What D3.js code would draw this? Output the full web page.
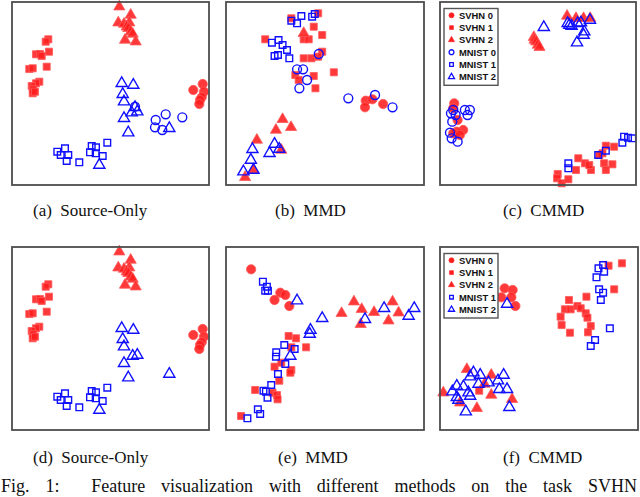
<!DOCTYPE html>
<html><head><meta charset="utf-8">
<script src="https://cdn.jsdelivr.net/npm/d3@7"></script>
<style>html,body{margin:0;padding:0;background:#fff;overflow:hidden}</style>
</head><body>
<svg id="chart" width="640" height="497"></svg>
<script>
// ---------- DATA (t-SNE style coordinates, y upward) ----------
const seriesNames = ["SVHN 0","SVHN 1","SVHN 2","MNIST 0","MNIST 1","MNIST 2"];
const captions = ["(a)  Source-Only","(b)  MMD","(c)  CMMD","(d)  Source-Only","(e)  MMD","(f)  CMMD"];
const figCaption = "Fig. 1:  Feature visualization with different methods on the task SVHN";

// (a) Source-Only
const a_svhn0 = [[190.7,101],[181.3,95],[192,93.3],[189.7,87.7],[188,85],[187.3,81]];
const a_svhn1 = [[36.3,145.7],[33.7,143.3],[37,133.3],[24,130.7],[28,131],[29.7,129],[34.7,118.3],[17.3,116],[20.7,116.7],[27.3,103.3],[24,101.7],[19.7,99],[21.3,95.7],[20.7,91.7],[23,93.3]];
const a_svhn2 = [[107.3,178.3],[118.7,170],[106.3,162.3],[112,161],[117.3,162.3],[114.7,158.3],[116.3,156.7],[118.7,153.3],[120.7,151],[113,145],[123.7,143.3]];
const a_mnist0 = [[123,78.3],[143.7,65],[153.7,70.7],[170.3,67.7],[143,57.7],[150.3,55]];
const a_mnist1 = [[45.3,33.3],[53,36.7],[48.7,30],[56.3,30],[54.7,24],[67.3,22.7],[79.7,39],[84,37.7],[78,32.7],[83.7,31.7],[90.7,29],[95.3,42.3]];
const a_mnist2 = [[109.7,101.7],[121.3,100],[110.7,90.7],[112,83.3],[123,77.7],[119.7,72.3],[125.3,73.3],[112,66.7],[116.3,52.3],[157.3,56.7],[87.3,20]];

// (b) MMD
const b_svhn0 = [[139,84.3],[138.3,77.7],[145.7,85.7],[156.3,81]];
const b_svhn1 = [[65,166.7],[91.7,171.7],[87.3,158.3],[77.3,145.7],[82.3,145.7],[95.7,150],[39,145.7],[95.7,133.3],[77.3,126.7],[85,126.7],[69,110],[87.3,109],[72.3,105],[89,96.7],[107.3,112.7],[91.7,128.3]];
const b_svhn2 = [[77.3,151.7],[56.3,65.7],[49.7,55],[64.7,57.7],[30.7,45],[55,35],[27.3,15],[19,7.7]];
const b_mnist0 = [[92.3,131],[70.7,115.7],[76.7,115.7],[80.7,105],[73,96.7],[121.7,86.7],[148.3,90],[165.7,77.7]];
const b_mnist1 = [[65,164.3],[70.7,161.7],[75,169],[85.7,168.3],[88.3,171],[45.7,142.3],[52.3,145],[56.3,140],[60.7,135],[48.3,129],[51.7,130],[63,126.7]];
const b_mnist2 = [[26.3,35.7],[48.3,41],[43.3,31.7],[53,36],[24.7,25],[17.3,13.3],[27.3,15]];

// (c) CMMD
const c_svhn0 = [[14.3,81.7],[13.3,76.7],[17.7,65],[23.3,55],[16.7,53.3],[13.3,51.7],[20,50]];
const c_svhn1 = [[166.7,39.3],[175,38.3],[139,26.7],[145.7,21.7],[151.7,15],[150,20],[163.3,31.7],[165,21.7],[173.3,20.7],[166.7,15],[136.7,15],[118.3,11],[117.7,6.7],[122.3,1.7],[129,5.7],[160,30]];
const c_svhn2 = [[127.7,169],[136.7,166.7],[144.3,166.7],[151,166.7],[94.3,147.7],[95,145],[96.7,143.3],[98.3,140],[100,137.7]];
const c_mnist0 = [[13.3,75],[11,71.7],[25,75],[30,75],[27.7,70],[12.3,63.3],[10,52.3],[11.7,46.7],[17.7,43.3],[15.7,70]];
const c_mnist1 = [[185,48.3],[189,47.3],[193.3,46.7],[183.3,42.3],[166.7,34.3],[159,30],[129,21.7],[129,16.7]];
const c_mnist2 = [[104.3,157.7],[130,160],[132.3,159],[138.3,161.7],[141.7,162.3],[150.7,165],[145,153.3],[144.3,150],[137.7,142.3],[128.3,161.7]];

// (d) Source-Only (MNIST 0 not shown)
const d_svhn0 = a_svhn0;
const d_svhn1 = a_svhn1;
const d_svhn2 = a_svhn2;
const d_mnist1 = a_mnist1;
const d_mnist2 = [[109.7,101.7],[121.3,100],[110.7,90.7],[112,83.3],[120.7,74],[125.3,75],[112,66.7],[116.3,52.3],[157.3,56],[87.3,20]];

// (e) MMD
const e_svhn0 = [[25,160.7],[54,137.3],[59,135],[48.3,130],[63,124]];
const e_svhn1 = [[62.3,94],[69.7,91.7],[79.7,82.7],[65,82.7],[48.3,63.3],[55,67.3],[65,60],[64,57.3],[53,49.3],[29,40],[46.3,37.3],[50.7,35],[51.3,30.7],[15,14]];
const e_svhn2 = [[115,116.7],[127.3,128.3],[135,120.7],[147.3,117.7],[165.7,128.3],[171.7,117.3],[134,105.7],[161.7,109.3]];
const e_mnist1 = [[36.7,148.3],[39,139.3],[41.7,139.3],[40.7,143.3],[58,85],[68.3,81],[50,77.7],[49.7,73.3],[59,66],[51.7,56],[45,45],[37.3,39.3],[39.7,38.3],[41.3,32.3],[31.7,20.7],[34,16],[21.3,11.7]];
const e_mnist2 = [[70.7,129.3],[95.7,111.7],[84,100],[83.3,96],[64,74],[157.3,121.7],[138.3,110.7],[181.7,114],[187.3,121.7]];

// (f) CMMD
const f_svhn0 = [[64.3,141.7],[72.3,140],[61,132.7],[71,132.7],[75,124]];
const f_svhn1 = [[167.7,164.3],[181,166.7],[173.3,140.7],[128.3,130],[145.7,133.3],[124.3,120.7],[130,120.7],[136.7,124],[140,121.7],[145,116.7],[146.7,112.3],[120,113.3],[121,105],[150,104],[147.3,97.7],[129.3,97.3],[39,39.3]];
const f_svhn2 = [[26.7,60.7],[51,55],[44.3,46],[3.3,37.3],[20,27.3],[51,35],[71.7,30.7],[36.7,21.7]];
const f_mnist1 = [[157.7,161.7],[162.3,165],[163.3,158.3],[155.7,152.7],[158.3,140.7],[162.3,137.3],[160,130],[169,101.7],[154.3,90],[150,84]];
const f_mnist2 = [[66.7,126],[33.3,57.3],[40,55],[63.3,55],[30,53.3],[38.3,46],[48.3,47.3],[57.7,49.3],[16.7,44],[23.3,43.3],[12.3,38.3],[66.7,40.7],[59,40.7],[28.3,37.3],[16.7,32.7],[30,34],[18.3,30],[69,22.7],[25.7,18.3]];

// ---------- STYLE / LAYOUT ----------
const RED = "#ff1e1e", BLUE = "#1010ff";
const style = {
  "SVHN 0":  {shape: d3.symbolCircle,   size: 68, color: RED,  filled: true},
  "SVHN 1":  {shape: d3.symbolSquare,   size: 50, color: RED,  filled: true},
  "SVHN 2":  {shape: d3.symbolTriangle, size: 54, color: RED,  filled: true},
  "MNIST 0": {shape: d3.symbolCircle,   size: 62, color: BLUE, filled: false},
  "MNIST 1": {shape: d3.symbolSquare,   size: 44, color: BLUE, filled: false},
  "MNIST 2": {shape: d3.symbolTriangle, size: 54, color: BLUE, filled: false}
};

const panels = [
  {x:12,  y:2,   w:197, h:183, cap:0, capX:33,  capY:216, series:{"SVHN 0":a_svhn0,"SVHN 1":a_svhn1,"SVHN 2":a_svhn2,"MNIST 0":a_mnist0,"MNIST 1":a_mnist1,"MNIST 2":a_mnist2}},
  {x:226, y:2,   w:198, h:183, cap:1, capX:275, capY:216, series:{"SVHN 0":b_svhn0,"SVHN 1":b_svhn1,"SVHN 2":b_svhn2,"MNIST 0":b_mnist0,"MNIST 1":b_mnist1,"MNIST 2":b_mnist2}},
  {x:440, y:2,   w:196, h:183, cap:2, capX:503, capY:216, legend:true, series:{"SVHN 0":c_svhn0,"SVHN 1":c_svhn1,"SVHN 2":c_svhn2,"MNIST 0":c_mnist0,"MNIST 1":c_mnist1,"MNIST 2":c_mnist2}},
  {x:12,  y:247, w:197, h:183, cap:3, capX:33,  capY:463, series:{"SVHN 0":d_svhn0,"SVHN 1":d_svhn1,"SVHN 2":d_svhn2,"MNIST 1":d_mnist1,"MNIST 2":d_mnist2}},
  {x:226, y:247, w:198, h:183, cap:4, capX:278, capY:463, series:{"SVHN 0":e_svhn0,"SVHN 1":e_svhn1,"SVHN 2":e_svhn2,"MNIST 1":e_mnist1,"MNIST 2":e_mnist2}},
  {x:440, y:247, w:198, h:183, cap:5, capX:503, capY:463, legend:true, series:{"SVHN 0":f_svhn0,"SVHN 1":f_svhn1,"SVHN 2":f_svhn2,"MNIST 1":f_mnist1,"MNIST 2":f_mnist2}}
];

const svg = d3.select("#chart");

panels.forEach(p => {
  const g = svg.append("g").attr("transform", `translate(${p.x},${p.y})`);
  const xs = d3.scaleLinear().domain([0, 197]).range([0, p.w]);
  const ys = d3.scaleLinear().domain([0, 183]).range([p.h, 0]);

  Object.keys(p.series).forEach(name => {
    const st = style[name];
    const sym = d3.symbol().type(st.shape).size(st.size);
    g.append("g").selectAll("path").data(p.series[name]).join("path")
      .attr("d", sym)
      .attr("transform", d => `translate(${xs(d[0])},${ys(d[1])})`)
      .attr("fill", st.filled ? st.color : "none")
      .attr("fill-opacity", st.filled ? 0.88 : 0)
      .attr("stroke", st.filled ? "#ff5a5a" : st.color)
      .attr("stroke-opacity", st.filled ? 0.8 : 1)
      .attr("stroke-width", st.filled ? 1 : 1.4);
  });

  g.append("rect").attr("x", 0).attr("y", 0).attr("width", p.w).attr("height", p.h)
    .attr("fill", "none").attr("stroke", "#4d4d4d").attr("stroke-width", 1.8);

  if (p.legend) {
    const names = seriesNames.filter(n => p.series[n]);
    const lg = g.append("g").attr("transform", "translate(4,6.5)");
    const lh = 12.3;
    lg.append("rect").attr("x", 0).attr("y", 0).attr("width", 54)
      .attr("height", names.length * lh + 3)
      .attr("fill", "#fff").attr("stroke", "#555").attr("stroke-width", 1.4);
    names.forEach((n, i) => {
      const st = style[n];
      const cy = 6.8 + i * lh;
      lg.append("path").attr("d", d3.symbol().type(st.shape).size(st.size * 0.3)())
        .attr("transform", `translate(7.5,${cy})`)
        .attr("fill", st.filled ? st.color : "none")
        .attr("stroke", st.color).attr("stroke-width", st.filled ? 0.6 : 1.3);
      lg.append("text").attr("x", 15).attr("y", cy + 3.4)
        .attr("font-family", "Liberation Sans, Arial, sans-serif")
        .attr("font-weight", "bold").attr("font-size", 9.4).attr("fill", "#111")
        .text(n);
    });
  }

  svg.append("text").attr("x", p.capX).attr("y", p.capY)
    .attr("font-family", "Liberation Serif, Times New Roman, serif")
    .attr("font-size", 17).attr("fill", "#111")
    .style("white-space", "pre")
    .text(captions[p.cap]);
});

// figure caption: justified across the width with word spacing
const fc = svg.append("text").attr("x", 1).attr("y", 492)
  .attr("font-family", "Liberation Serif, Times New Roman, serif")
  .attr("font-size", 18).attr("fill", "#111")
  .style("white-space", "pre")
  .text(figCaption);
const natural = fc.node().getComputedTextLength();
const gaps = figCaption.split(" ").length - 1;
fc.attr("word-spacing", Math.max(0, (636 - natural) / gaps));
</script>
</body></html>
